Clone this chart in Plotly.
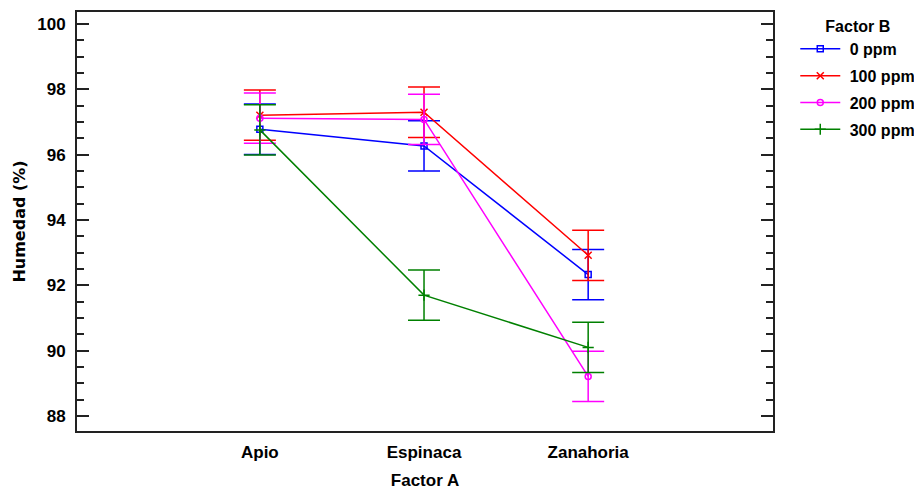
import plotly.graph_objects as go

categories = ["Apio", "Espinaca", "Zanahoria"]
series_names = ["0 ppm", "100 ppm", "200 ppm", "300 ppm"]
vals_0 = [96.78, 96.27, 92.33]
vals_100 = [97.21, 97.30, 92.92]
vals_200 = [97.12, 97.08, 89.21]
vals_300 = [96.76, 91.70, 90.10]
err_half = [0.77, 0.77, 0.77]
y_ticks = [88, 90, 92, 94, 96, 98, 100]

colors = ["#0000ff", "#ff0000", "#ff00ff", "#008000"]
symbols = ["square-open", "x-thin-open", "circle-open", "cross-thin-open"]
sizes = [6, 7, 6, 8]
values = [vals_0, vals_100, vals_200, vals_300]

FONT = "Liberation Sans, Arial, sans-serif"
FS = 17
LFS = 16

fig = go.Figure()
for i, (name, v, c, s, sz) in enumerate(zip(series_names, values, colors, symbols, sizes)):
    fig.add_trace(go.Scatter(
        x=categories, y=v, name="\u00a0" + name, mode="lines+markers",
        legendgroup=f"g{i}",
        line=dict(color=c, width=1.5),
        marker=dict(symbol=s, size=sz, color=c, line=dict(color=c, width=1.5)),
        error_y=dict(type="data", array=err_half, visible=True, color=c,
                     thickness=1.5, width=16),
    ))

# the page body adds an 8px offset, so the figure is 8px smaller on each axis
fig.update_layout(
    width=914, height=485,
    margin=dict(l=69, r=149, t=4, b=62, autoexpand=False),
    paper_bgcolor="white", plot_bgcolor="white",
    font=dict(family=FONT, size=FS, color="black"),
    showlegend=True,
    legend=dict(
        x=1.032, y=1.002, xanchor="left", yanchor="top",
        title=dict(text="<b>Factor B</b>", side="top center",
                   font=dict(family=FONT, size=LFS)),
        font=dict(family=FONT, size=LFS, weight="bold"),
        tracegroupgap=3, itemwidth=40,
        bgcolor="rgba(0,0,0,0)",
    ),
)
fig.update_xaxes(
    type="category", range=[-1.114, 3.126], automargin=False,
    showline=True, linecolor="#222", linewidth=2, mirror=True,
    ticks="", showgrid=False, zeroline=False,
    tickfont=dict(family=FONT, size=FS, weight="bold"),
    ticklabelstandoff=5,
    title=dict(text="<b>Factor A</b>", standoff=13,
               font=dict(family=FONT, size=FS)),
)
fig.update_yaxes(
    range=[87.54, 100.37], tickvals=y_ticks, automargin=False,
    showline=True, linecolor="#222", linewidth=2, mirror="allticks",
    ticks="inside", ticklen=12, tickwidth=2, tickcolor="#222",
    minor=dict(dtick=0.5, ticks="inside", ticklen=7, tickwidth=2, tickcolor="#222", showgrid=False),
    showgrid=False, zeroline=False,
    tickfont=dict(family=FONT, size=FS, weight="bold"),
    ticklabelstandoff=6,
    title=dict(text="<b>Humedad (%)</b>", standoff=8,
               font=dict(family="DejaVu Sans", size=16)),
)

fig.write_html("out.html")
